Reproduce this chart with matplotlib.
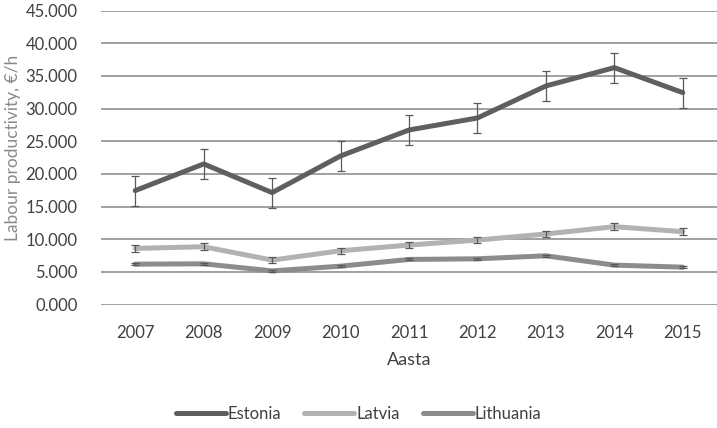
import matplotlib
matplotlib.use("Agg")
import matplotlib.pyplot as plt
import numpy as np

plt.rcParams['font.family'] = ['Lato', 'DejaVu Sans']

years = ["2007", "2008", "2009", "2010", "2011", "2012", "2013", "2014", "2015"]
estonia = [17450, 21530, 17140, 22750, 26730, 28570, 33470, 36280, 32450]
latvia = [8590, 8850, 6800, 8230, 9100, 9870, 10800, 11920, 11150]
lithuania = [6180, 6230, 5150, 5870, 6900, 7000, 7460, 6030, 5720]
estonia_err = 2300
latvia_err = 500
lithuania_err = 150

series = [
    ("Estonia", estonia, estonia_err, "#5f5f5f"),
    ("Latvia", latvia, latvia_err, "#b2b2b2"),
    ("Lithuania", lithuania, lithuania_err, "#8c8c8c"),
]

fig = plt.figure(figsize=(7.17, 4.28), dpi=100)
ax = fig.add_axes([101/717, 1 - 304.5/428, (717 - 101)/717, (304.5 - 10.7)/428])

x = np.arange(len(years))
for name, vals, err, col in series:
    ax.plot(x, vals, color=col, lw=3.6, solid_capstyle='round', solid_joinstyle='round', label=name, zorder=3)
    ax.errorbar(x, vals, yerr=err, fmt='none', ecolor="#595959", elinewidth=0.9, capsize=2.8, capthick=0.9, zorder=4)

ax.set_xlim(-0.5, len(years) - 0.5)
ax.set_ylim(0, 45000)
ax.set_yticks(np.arange(0, 45001, 5000))
ax.set_yticklabels([f"{int(v/1000)}.000" for v in np.arange(0, 45001, 5000)])
ax.set_xticks(x)
ax.set_xticklabels(years)
ax.grid(axis='y', color="#868686", lw=1.1)
ax.set_axisbelow(True)
for s in ax.spines.values():
    s.set_visible(False)
ax.tick_params(axis='both', length=0, labelsize=12, colors="#404040")
ax.tick_params(axis='y', pad=17)
ax.tick_params(axis='x', pad=15)

ax.set_xlabel("Aasta", fontsize=13, color="#404040", labelpad=8)
ax.set_ylabel("Labour productivity, €/h", fontsize=12.5, color="#8a8a8a", va='center')
ax.yaxis.set_label_coords(-88/616, 0.533)

leg = fig.legend(loc='center', bbox_to_anchor=(0.5, 1 - 414/428), ncol=3, frameon=False,
                 fontsize=12, handlelength=3.0, handletextpad=0.1, columnspacing=1.4)
for t in leg.get_texts():
    t.set_color("#404040")

fig.savefig("out.png", dpi=100)
